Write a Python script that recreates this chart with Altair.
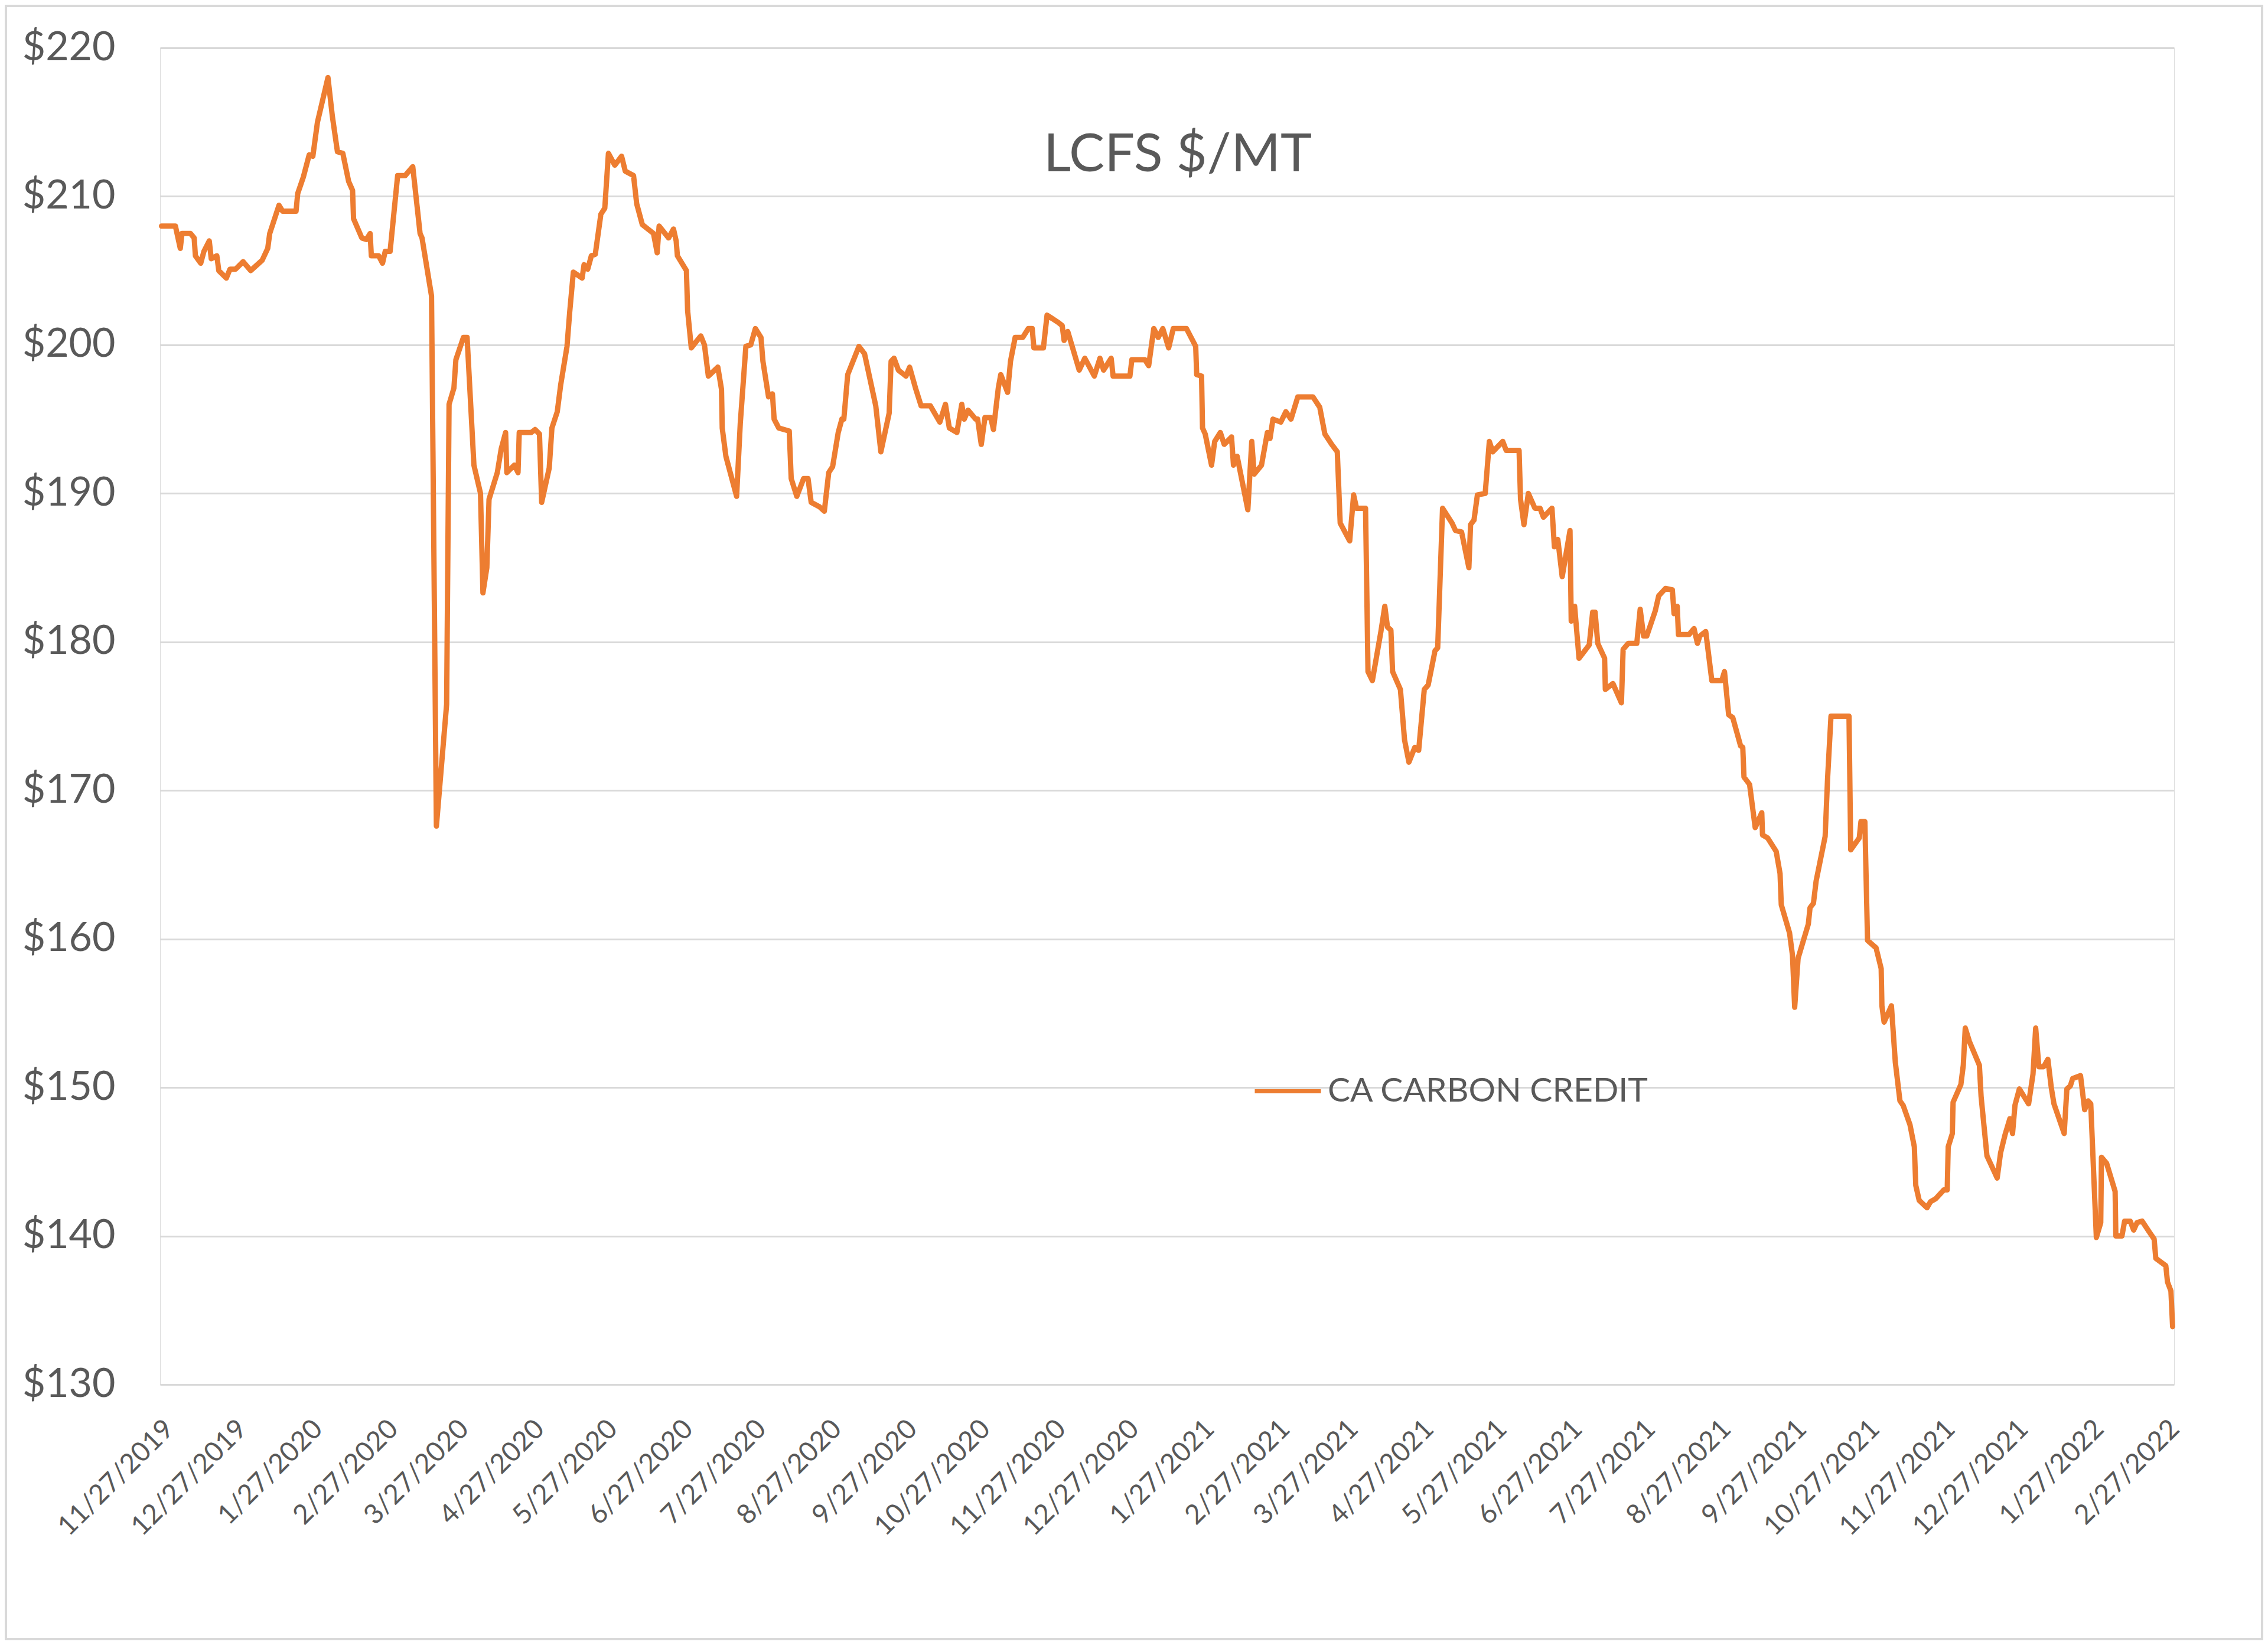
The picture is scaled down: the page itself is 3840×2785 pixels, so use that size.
import altair as alt
import pandas as pd

# ---- data (days since 11/27/2019, price $/MT) ----
START = "2019-11-27"
days = [
    0.6, 6.3, 8.3, 9.0, 12.5, 14.0, 14.5, 16.7, 18.0, 20.2, 21.0, 23.3, 24.1, 27.2, 28.7, 31.0,
    34.1, 37.2, 41.9, 44.2, 45.0, 48.8, 50.3, 55.8, 56.5, 58.8, 61.2, 62.7, 64.6, 68.9, 70.7,
    72.8, 75.0, 77.4, 79.0, 79.4, 82.8, 84.7, 86.2, 86.7, 89.7, 91.3, 92.4, 94.4, 97.5, 100.6,
    103.7, 106.7, 107.5, 111.4, 113.4, 117.6, 118.6, 120.6, 121.4, 124.5, 126.0, 128.8, 131.5,
    132.5, 134.1, 135.0, 138.4, 140.0, 141.8, 142.3, 145.4, 146.9, 147.4, 152.3, 153.9, 155.7,
    156.6, 159.7, 160.8, 163.0, 164.4, 167.0, 168.1, 169.6, 173.2, 174.0, 175.5, 177.0, 178.6,
    180.9, 182.5, 184.0, 186.6, 189.4, 190.9, 194.3, 195.6, 197.9, 202.5, 204.0, 204.8, 208.7,
    210.7, 211.8, 212.3, 216.0,
    216.5, 218.0, 221.9, 223.4, 225.0, 228.9, 230.4, 230.7, 232.2, 236.6, 238.1, 240.4, 242.4,
    244.3, 246.6, 247.4, 249.7, 251.3, 252.0, 253.9, 258.2, 259.0, 261.3, 264.1, 265.9, 267.2,
    270.6, 272.6, 274.4, 276.0, 278.3, 279.8, 280.6, 282.2, 286.8, 289.1, 293.7, 295.8, 299.2,
    300.0, 301.2, 303.0, 306.1, 307.6, 310.0, 312.3, 316.1, 320.0, 322.3, 323.9, 327.0, 329.0,
    330.0, 331.6, 334.7, 335.5, 337.0, 338.5, 340.9, 342.0, 344.0, 345.0, 347.8, 349.0, 350.9,
    354.0, 356.3, 357.9, 358.6, 362.5, 364.0, 368.7, 370.2, 371.0, 372.5, 377.2, 379.5, 383.4,
    385.7, 387.2, 390.3, 391.1, 398.0, 398.8, 404.2, 405.7, 407.8, 409.6, 411.5, 413.9, 415.8,
    421.2, 425.0, 425.4, 427.4, 427.8, 428.9, 431.5, 432.8, 435.1, 436.7, 439.7, 440.5, 442.0,
    446.4, 448.0, 449.0, 452.0, 454.4,
    455.5, 456.7, 459.9, 462.0, 464.1, 466.9, 473.1, 475.9, 478.0, 480.8, 483.1, 484.3, 488.2,
    489.8, 491.0, 494.7, 495.7, 497.5, 501.0, 502.6, 503.7, 505.1, 505.8, 509.0, 510.7, 512.5,
    514.9, 516.5, 518.8, 520.4, 523.2, 524.3, 526.3, 530.2, 531.6, 534.1, 537.1, 537.8, 539.2,
    540.6, 543.8, 545.5, 546.9, 551.0, 552.4, 557.7, 558.3, 559.7, 561.5, 564.2, 566.3, 567.7,
    571.2, 572.2, 573.6, 575.4, 578.6, 579.1, 580.5, 582.3, 586.5, 587.9, 588.9, 590.0, 592.8,
    593.1, 596.2, 599.7, 600.4, 602.5, 606.0, 607.4, 608.8, 610.1, 613.6, 615.0, 617.8, 620.6,
    621.3, 622.6, 623.1, 627.5, 629.5, 630.9, 631.9, 634.3, 636.8, 640.9, 642.0, 643.7, 645.4,
    648.6, 649.5, 650.0, 652.3, 654.6, 657.3, 657.6, 659.7, 663.2, 664.8, 665.3, 668.7, 669.9,
    670.8, 672.2, 676.4, 677.1, 678.5, 679.6, 683.3, 684.3, 685.7, 693.1, 693.8, 697.3, 698.0,
    699.6, 700.7, 704.2, 706.3, 706.6, 707.5, 710.5, 712.1, 714.0, 715.3, 718.1, 719.9, 720.5,
    721.9, 725.1, 726.5, 728.6, 732.0, 733.4, 733.8, 735.5, 735.8, 739.0, 740.0, 740.8, 742.5,
    746.6, 747.3, 749.7, 753.9, 755.3, 757.1, 759.1, 760.2, 761.2, 763.0, 766.8, 768.6, 769.7,
    771.0, 773.0, 774.7, 776.1, 777.2, 781.4, 782.5, 783.9, 784.9, 788.1, 789.8, 791.2, 792.3,
    794.6, 796.4, 796.7, 798.8, 802.3, 802.6, 805.1, 806.2, 808.5, 809.9, 811.3, 813.4, 816.2,
    818.3, 819.0, 823.1, 823.8, 825.2, 825.9,
]
prices = [
    208.0, 208.0, 206.5, 207.5, 207.5, 207.2, 206.0, 205.5, 206.3, 207.0, 205.8, 206.0, 205.0,
    204.5, 205.1, 205.1, 205.6, 205.0, 205.7, 206.5, 207.5, 209.4, 209.0, 209.0, 210.2, 211.3,
    212.8, 212.7, 215.0, 218.0, 215.4, 213.0, 212.9, 211.0, 210.4, 208.5, 207.2, 207.1, 207.5,
    206.0, 206.0, 205.5, 206.3, 206.3, 211.4, 211.4, 212.0, 207.5, 207.2, 203.3, 167.6, 175.8,
    196.0, 197.1, 199.0, 200.5, 200.5, 191.9, 190.0, 183.3, 185.0, 189.6, 191.4, 193.0, 194.1,
    191.4, 191.9, 191.4, 194.1, 194.1, 194.3, 194.0, 189.4, 191.7, 194.4, 195.5, 197.3, 199.9,
    202.2, 204.9, 204.5, 205.4, 205.1, 206.0, 206.1, 208.8, 209.2, 212.9, 212.1, 212.7, 211.7,
    211.4, 209.5, 208.1, 207.5, 206.2, 208.0, 207.2, 207.8, 207.0, 206.0, 205.0,
    202.3, 199.8, 200.6, 200.0, 197.9, 198.5, 197.0, 194.4, 192.5, 189.8, 194.7, 199.9, 200.0,
    201.1, 200.5, 198.9, 196.5, 196.7, 195.0, 194.4, 194.2, 191.0, 189.8, 191.0, 191.0, 189.4,
    189.1, 188.8, 191.4, 191.8, 194.1, 195.0, 195.0, 198.0, 199.9, 199.4, 195.9, 192.8, 195.4,
    198.9, 199.1, 198.3, 197.9, 198.5, 197.1, 195.9, 195.9, 194.8, 196.0, 194.4, 194.1, 196.0,
    195.0, 195.6, 195.0, 195.0, 193.3, 195.1, 195.1, 194.3, 197.1, 198.0, 196.8, 198.9, 200.5,
    200.5, 201.1, 201.1, 199.8, 199.8, 202.0, 201.5, 201.3, 200.3, 200.9, 198.3, 199.1, 197.9,
    199.1, 198.3, 199.1, 197.9, 197.9, 199.0, 199.0, 198.6, 201.1, 200.5, 201.1, 199.8, 201.1,
    201.1, 199.9, 198.0, 197.9, 194.4, 194.0, 191.9, 193.5, 194.1, 193.3, 193.8, 191.9, 192.5,
    188.9, 193.5, 191.3, 191.9, 194.1,
    193.7, 195.0, 194.8, 195.5, 195.0, 196.5, 196.5, 195.8, 194.0, 193.3, 192.8, 188.0, 186.8,
    189.9, 189.0, 189.0, 178.0, 177.4, 180.7, 182.4, 181.0, 180.8, 178.0, 176.8, 173.4, 171.9,
    172.9, 172.7, 176.8, 177.1, 179.4, 179.6, 189.0, 188.0, 187.5, 187.4, 185.0, 187.9, 188.2,
    189.9, 190.0, 193.5, 192.8, 193.5, 192.9, 192.9, 189.6, 187.9, 190.0, 189.0, 189.0, 188.4,
    189.0, 186.4, 186.9, 184.4, 187.5, 181.4, 182.4, 178.9, 179.8, 182.0, 182.0, 179.9, 178.9,
    176.8, 177.2, 175.9, 179.5, 179.9, 179.9, 182.2, 180.4, 180.4, 182.1, 183.1, 183.6, 183.5,
    181.9, 182.4, 180.5, 180.5, 180.9, 179.9, 180.4, 180.7, 177.4, 177.4, 178.0, 175.1, 174.9,
    173.0, 172.9, 170.9, 170.4, 167.5, 168.5, 167.0, 166.8, 165.9, 164.4, 162.3, 160.4, 158.9,
    155.4, 158.7, 161.0, 162.1, 162.4, 163.9, 166.9, 170.8, 175.0, 175.0, 166.0, 166.8, 167.9,
    167.9, 159.9, 159.4, 158.0, 155.5, 154.4, 155.5, 151.7, 149.1, 148.8, 147.5, 146.0, 143.4,
    142.4, 141.9, 142.3, 142.5, 143.1, 143.1, 146.0, 146.9, 149.0, 150.2, 151.5, 154.0, 153.1,
    151.5, 149.4, 145.4, 143.9, 145.6, 146.8, 147.9, 146.9, 148.8, 149.9, 148.9, 150.9, 154.0,
    151.4, 151.4, 151.9, 150.0, 148.9, 146.9, 149.9, 150.1, 150.6, 150.8, 148.5, 149.1, 148.9,
    139.9, 140.9, 145.3, 144.9, 143.0, 140.0, 140.0, 141.0, 141.0, 140.4, 140.9, 141.0, 140.3,
    139.8, 138.5, 138.0, 136.9, 136.3, 133.9,
]
SERIES = "CA CARBON CREDIT"
TITLE = "LCFS $/MT"

tick_dates = [
    "2019-11-27", "2019-12-27", "2020-01-27", "2020-02-27", "2020-03-27", "2020-04-27",
    "2020-05-27", "2020-06-27", "2020-07-27", "2020-08-27", "2020-09-27", "2020-10-27",
    "2020-11-27", "2020-12-27", "2021-01-27", "2021-02-27", "2021-03-27", "2021-04-27",
    "2021-05-27", "2021-06-27", "2021-07-27", "2021-08-27", "2021-09-27", "2021-10-27",
    "2021-11-27", "2021-12-27", "2022-01-27", "2022-02-27",
]
y_ticks = [130, 140, 150, 160, 170, 180, 190, 200, 210, 220]

start = pd.Timestamp(START)
dates = [(start + pd.to_timedelta(d, unit="D")).strftime("%Y-%m-%dT%H:%M:%S") for d in days]
df = pd.DataFrame({"date": dates, "price": prices, "series": SERIES})

domain_end = (start + pd.to_timedelta(826.5, unit="D"))


def dt(ts):
    ts = pd.Timestamp(ts)
    return alt.DateTime(year=ts.year, month=ts.month, date=ts.day, hours=ts.hour, minutes=ts.minute)


x_values = [dt(t) for t in tick_dates]

W, H = 3410, 2263
PAD = {"left": 263, "top": 73, "right": 151, "bottom": 433}
FONT = "Lato"
GRAY = "#595959"

line = alt.Chart(df).mark_line(strokeWidth=9, strokeJoin="round", strokeCap="round").encode(
    x=alt.X(
        "date:T",
        scale=alt.Scale(domain=[dt(start), dt(domain_end)], nice=False),
        axis=alt.Axis(
            values=x_values,
            format="%-m/%-d/%Y",
            labelAngle=-45,
            labelAlign="right",
            labelBaseline="top",
            labelPadding=52,
            labelFontSize=46,
            labelFont=FONT,
            labelColor=GRAY,
            labelOverlap=False,
            labelBound=False,
            labelFlush=False,
            labelLimit=0,
            grid=False,
            domain=False,
            ticks=False,
            title=None,
        ),
    ),
    y=alt.Y(
        "price:Q",
        scale=alt.Scale(domain=[130, 220], nice=False, zero=False),
        axis=alt.Axis(
            values=y_ticks,
            labelExpr="'$' + datum.value",
            labelFontSize=68,
            labelFont=FONT,
            labelColor=GRAY,
            labelPadding=76,
            grid=True,
            gridColor="#D9D9D9",
            gridWidth=3,
            domain=False,
            ticks=False,
            title=None,
        ),
    ),
    color=alt.Color(
        "series:N",
        scale=alt.Scale(domain=[SERIES], range=["#ED7D31"]),
        legend=alt.Legend(
            title=None,
            orient="none",
            legendX=1850,
            legendY=1707,
            symbolType="stroke",
            symbolSize=12544,
            symbolStrokeWidth=7,
            labelFontSize=57,
            labelFont=FONT,
            labelColor=GRAY,
            labelOffset=8,
            labelLimit=0,
            padding=0,
        ),
    ),
)

title = alt.Chart(pd.DataFrame({"t": [TITLE]})).mark_text(
    fontSize=90, font=FONT, color=GRAY, align="center", baseline="alphabetic"
).encode(
    text="t:N",
    x=alt.value(1723),
    y=alt.value(209),
)

border = alt.Chart(pd.DataFrame({"k": [0]})).mark_rect(
    fill=None, stroke="#D9D9D9", strokeWidth=4
).encode(
    x=alt.value(-PAD["left"] + 2),
    x2=alt.value(W + PAD["right"] - 2),
    y=alt.value(-PAD["top"] + 2),
    y2=alt.value(H + PAD["bottom"] - 2),
)

chart = alt.layer(border, line, title).properties(
    width=W,
    height=H,
    padding=PAD,
    autosize=alt.AutoSizeParams(type="none"),
).configure_view(stroke=None).configure(background="white")

chart.save("out.html", embed_options={"renderer": "svg", "actions": False})
